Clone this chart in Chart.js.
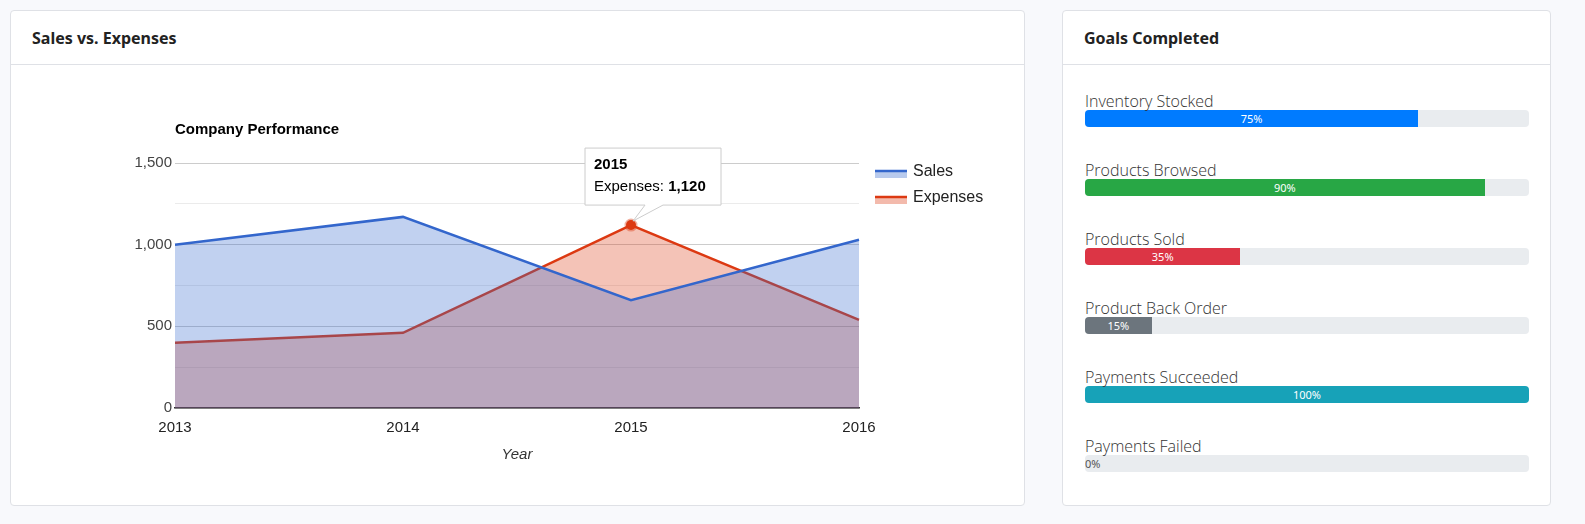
<!DOCTYPE html>
<html><head><meta charset="utf-8">
<script src="https://cdn.jsdelivr.net/npm/chart.js@4/dist/chart.umd.min.js"></script>
<style>
body{margin:0;background:#f8f9fc;font-family:"Noto Sans",sans-serif;width:1585px;height:524px;position:relative;overflow:hidden}
.card{position:absolute;top:10px;background:#fff;border:1px solid #dfe1e6;border-radius:4px;box-sizing:border-box}
.hdr{height:53px;border-bottom:1px solid #dfe1e6;padding-left:21px;line-height:54px;font-weight:bold;font-size:16px;color:#222}
.goal{position:absolute;left:22px;right:21px}
.goal .lbl{font-family:"Open Sans",sans-serif;font-weight:300;font-size:16px;color:#333;height:26px}
.track{height:17px;background:#e9ecef;border-radius:4px;overflow:hidden;margin-top:-6px}
.fill{height:100%;color:#fff;font-size:11px;text-align:center;line-height:17px}
</style></head><body>
<div class="card" style="left:10px;width:1015px;height:496px">
<div class="hdr">Sales vs. Expenses</div>
<canvas id="c" style="position:absolute;left:0;top:54px"></canvas>
</div>
<div class="card" style="left:1062px;width:489px;height:496px">
<div class="hdr">Goals Completed</div>
<div id="goals"></div>
</div>
<script>
const years = ['2013', '2014', '2015', '2016'];
const sales = [1000, 1170, 660, 1030];
const expenses = [400, 460, 1120, 540];
const goalNames = ['Inventory Stocked', 'Products Browsed', 'Products Sold', 'Product Back Order', 'Payments Succeeded', 'Payments Failed'];
const goalValues = [75, 90, 35, 15, 100, 0];
const goalColors = ['#007bff', '#28a745', '#dc3545', '#6c757d', '#17a2b8', '#6c757d'];

// progress bars
const g = document.getElementById('goals');
goalNames.forEach((n, i) => {
  const d = document.createElement('div');
  d.className = 'goal';
  d.style.top = (79 + i * 69) + 'px';
  const txtColor = goalValues[i] === 0 ? '#555' : '#fff';
  d.innerHTML = `<div class="lbl">${n}</div><div class="track"><div class="fill" style="width:${goalValues[i]}%;background:${goalColors[i]};color:${txtColor};overflow:visible;white-space:nowrap;${goalValues[i]===0?'text-align:left':''}">${goalValues[i]}%</div></div>`;
  g.appendChild(d);
});

const cv = document.getElementById('c');
cv.width = 1013; cv.height = 440;
cv.style.width = '1013px'; cv.style.height = '440px';

const extras = {
  id: 'extras',
  afterDraw(ch) {
    const c = ch.ctx, a = ch.chartArea;
    c.save();
    c.fillStyle = '#000';
    c.font = 'bold 15px Arial, "Liberation Sans"';
    c.textBaseline = 'middle';
    c.fillText('Company Performance', a.left, a.top - 33);
    // legend
    const items = [['Sales', '#3366cc', 'rgba(51,102,204,0.35)'], ['Expenses', '#dc3912', 'rgba(220,57,18,0.35)']];
    c.font = '16px Arial, "Liberation Sans"';
    items.forEach((it, i) => {
      const y = a.top + 8 + i * 26, x = a.right + 16;
      c.fillStyle = it[2]; c.fillRect(x, y, 32, 7);
      c.strokeStyle = it[1]; c.lineWidth = 2.5;
      c.beginPath(); c.moveTo(x, y); c.lineTo(x + 32, y); c.stroke();
      c.fillStyle = '#222'; c.fillText(it[0], x + 38, y + 1);
    });
    // tooltip
    const xs = ch.scales.x, ys = ch.scales.y;
    const px = xs.getPixelForValue(2), py = ys.getPixelForValue(expenses[2]);
    const bx = px - 46, by = py - 77, bw = 136, bh = 57;
    c.fillStyle = '#fff'; c.strokeStyle = '#ccc'; c.lineWidth = 1;
    c.beginPath();
    c.moveTo(bx, by); c.lineTo(bx + bw, by); c.lineTo(bx + bw, by + bh);
    c.lineTo(px + 32, by + bh); c.lineTo(px + 2, py - 4); c.lineTo(px + 14, by + bh);
    c.lineTo(bx, by + bh); c.closePath(); c.fill(); c.stroke();
    c.fillStyle = '#000';
    c.font = 'bold 15px Arial, "Liberation Sans"';
    c.fillText(years[2], bx + 9, by + 17);
    c.font = '15px Arial, "Liberation Sans"';
    c.fillText('Expenses: ', bx + 9, by + 39);
    const w = c.measureText('Expenses: ').width;
    c.font = 'bold 15px Arial, "Liberation Sans"';
    c.fillText(expenses[2].toLocaleString('en-US'), bx + 9 + w, by + 39);
    c.restore();
  }
};

new Chart(cv, {
  type: 'line',
  data: {
    labels: years,
    datasets: [{
      label: 'Sales', data: sales, borderColor: '#3366cc', backgroundColor: 'rgba(51,102,204,0.3)',
      fill: 'origin', borderWidth: 2.5, tension: 0, pointRadius: 0
    }, {
      label: 'Expenses', data: expenses, borderColor: '#dc3912', backgroundColor: 'rgba(220,57,18,0.3)',
      fill: 'origin', borderWidth: 2.5, tension: 0,
      pointRadius: [0, 0, 5, 0], pointBackgroundColor: '#dc3912', pointBorderColor: 'rgba(220,57,18,0.4)', pointBorderWidth: 3
    }]
  },
  options: {
    responsive: false, animation: false,
    layout: { padding: { left: 104, right: 165, top: 98, bottom: 37 } },
    plugins: { legend: { display: false }, tooltip: { enabled: false } },
    scales: {
      x: {
        offset: false,
        grid: { display: false },
        border: { color: '#333', width: 1.5 },
        ticks: { color: '#222', font: { size: 15, family: 'Arial' }, maxRotation: 0 },
        title: { display: true, text: 'Year', color: '#333', font: { size: 15, style: 'italic', family: 'Arial' }, padding: { top: 10 } },
        afterFit(s) { s.height = 60; }
      },
      y: {
        min: 0, max: 1500,
        ticks: { stepSize: 250, color: '#444', font: { size: 15, family: 'Arial' },
          callback: v => v % 500 === 0 ? v.toLocaleString('en-US') : '' },
        grid: { color: c => c.tick.value % 500 === 0 ? '#ccc' : '#ebebeb', drawTicks: false },
        border: { display: false },
        afterFit(s) { s.width = 60; }
      }
    }
  },
  plugins: [extras]
});
</script>
</body></html>
